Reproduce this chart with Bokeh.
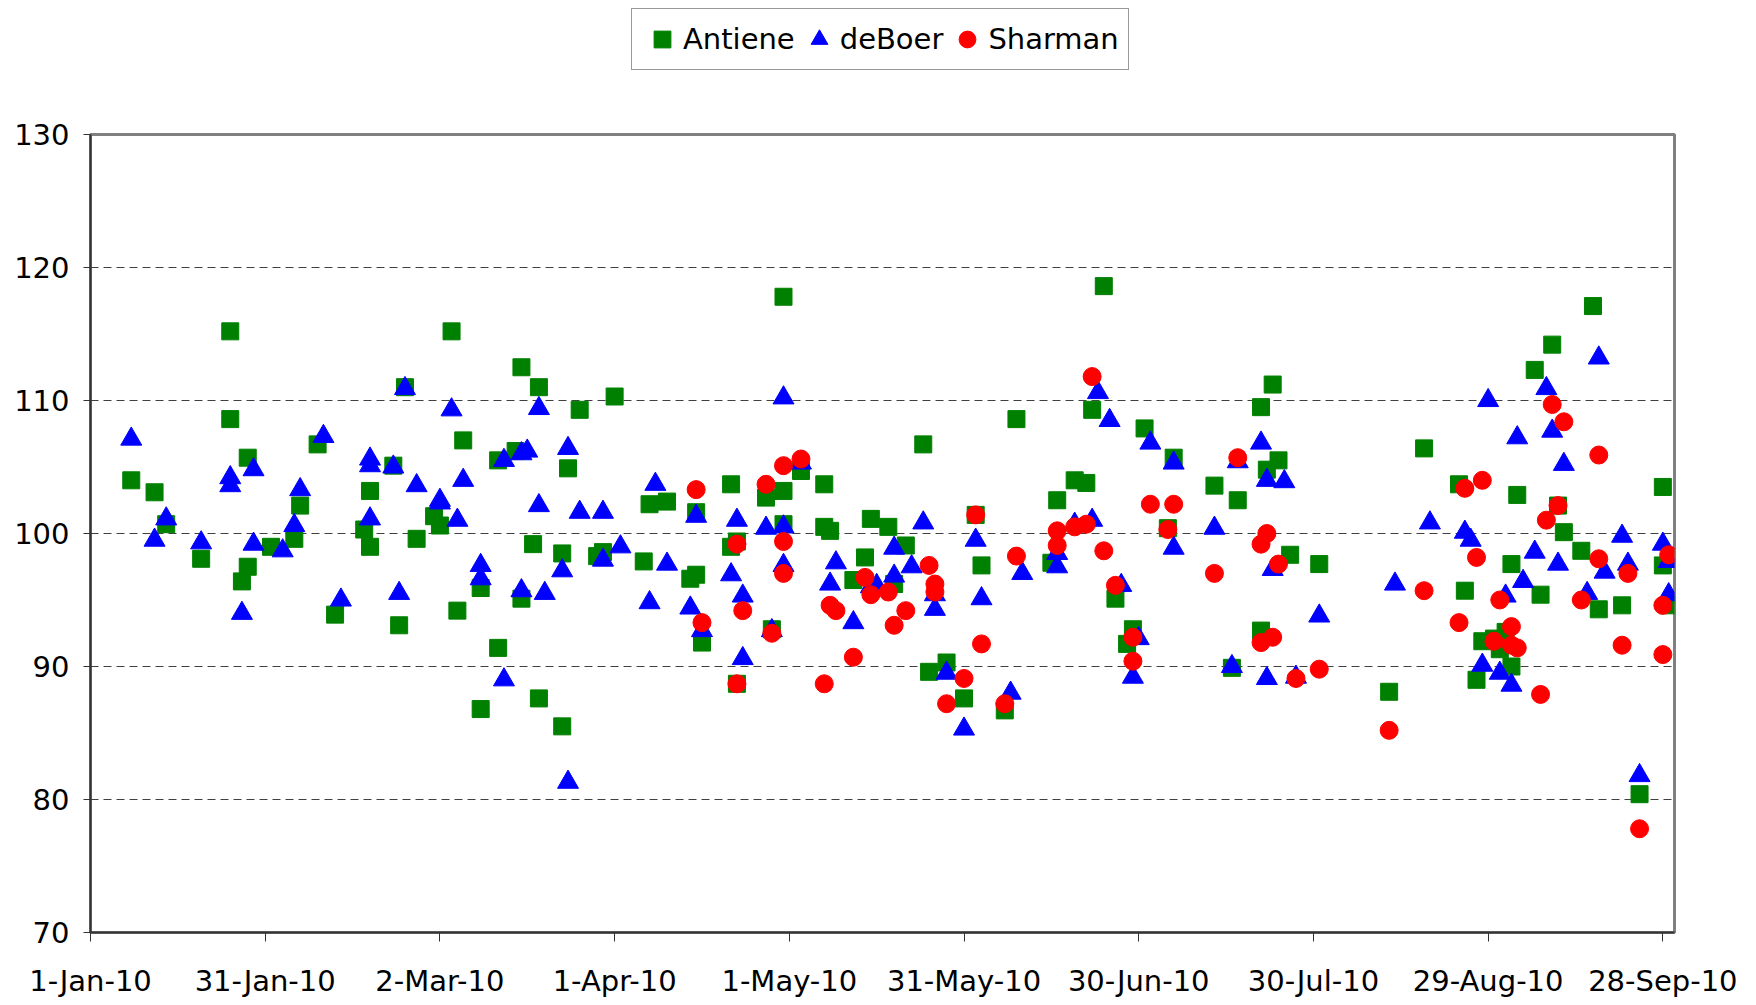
from bokeh.plotting import figure
from bokeh.layouts import column
from bokeh.models import FixedTicker, Legend, LegendItem, Range1d
from bokeh.embed import file_html
from bokeh.resources import INLINE

# ---- data (x = days since 1-Jan-10) ----
tick_days = [0, 30, 60, 90, 120, 150, 180, 210, 240, 270]
tick_labels = ["1-Jan-10", "31-Jan-10", "2-Mar-10", "1-Apr-10", "1-May-10",
               "31-May-10", "30-Jun-10", "30-Jul-10", "29-Aug-10", "28-Sep-10"]
y_ticks = [70, 80, 90, 100, 110, 120, 130]
series_names = ["Antiene", "deBoer", "Sharman"]
series_colors = ["#008000", "#0000FF", "#FF0000"]

antiene_day = [7, 11, 13, 19, 24, 24, 26, 27, 27, 31,
               35, 36, 39, 42, 47, 48, 48, 52, 53, 54,
               56, 59, 60, 62, 63, 64, 67, 67, 70, 70,
               73, 74, 74, 76, 77, 77, 81, 81, 82, 84,
               87, 88, 90, 95, 96, 99, 103, 104, 104, 105,
               110, 110, 111, 111, 116, 117, 119, 119, 119, 122,
               126, 126, 127, 131, 133, 134, 137, 138, 140, 143,
               144, 147, 150, 152, 153, 157, 159, 165, 166, 169,
               171, 172, 174, 176, 178, 179, 181, 185, 186, 193,
               196, 197, 201, 201, 202, 203, 204, 206, 211, 223,
               229, 235, 236, 238, 239, 241, 242, 243, 244, 244,
               245, 248, 249, 251, 252, 253, 256, 258, 259, 263,
               266, 270, 270, 271]
antiene_val = [104.0, 103.1, 100.7, 98.1, 115.2, 108.6, 96.4, 105.7, 97.5, 99.0,
               99.6, 102.1, 106.7, 93.9, 100.3, 103.2, 99.0, 105.1, 93.1, 111.0,
               99.6, 101.3, 100.6, 115.2, 94.2, 107.0, 95.9, 86.8, 105.5, 91.4,
               106.2, 112.5, 95.1, 99.2, 111.0, 87.6, 98.5, 85.5, 104.9, 109.3,
               98.3, 98.6, 110.3, 97.9, 102.2, 102.4, 96.6, 96.9, 101.6, 91.8,
               103.7, 99.0, 99.4, 88.7, 102.7, 92.8, 103.2, 100.7, 117.8, 104.7,
               103.7, 100.5, 100.2, 96.5, 98.2, 101.1, 100.5, 96.2, 99.1, 106.7,
               89.6, 90.3, 87.6, 101.4, 97.6, 86.7, 108.6, 97.8, 102.5, 104.0,
               103.8, 109.3, 118.6, 95.1, 91.7, 92.8, 107.9, 100.4, 105.7, 103.6,
               89.9, 102.5, 92.7, 109.5, 104.8, 111.2, 105.5, 98.4, 97.7, 88.1,
               106.4, 103.7, 95.7, 89.0, 91.9, 92.1, 91.3, 92.6, 90.0, 97.7,
               102.9, 112.3, 95.4, 114.2, 102.1, 100.1, 98.7, 117.1, 94.3, 94.6,
               80.4, 103.5, 97.6, 94.6]

deboer_day = [7, 11, 13, 19, 24, 24, 26, 28, 28, 33,
              35, 36, 40, 43, 48, 48, 48, 52, 53, 54,
              56, 60, 60, 62, 63, 64, 67, 67, 71, 71,
              74, 75, 74, 77, 77, 78, 81, 82, 82, 84,
              88, 88, 91, 96, 97, 99, 103, 104, 105, 110,
              111, 112, 112, 116, 117, 119, 119, 119, 122, 127,
              128, 131, 134, 135, 138, 138, 141, 143, 145, 145,
              147, 150, 152, 153, 158, 160, 166, 166, 169, 172,
              173, 175, 177, 179, 180, 182, 186, 186, 193, 196,
              197, 201, 202, 202, 203, 205, 207, 211, 224, 230,
              236, 237, 239, 240, 242, 243, 244, 245, 246, 248,
              250, 251, 252, 253, 257, 259, 260, 263, 264, 266,
              270, 271, 271]
deboer_val = [107.1, 99.5, 101.1, 99.3, 104.2, 103.6, 94.0, 104.8, 99.2, 98.7,
              100.6, 103.3, 107.3, 95.0, 105.6, 105.1, 101.1, 105.0, 95.5, 110.9,
              103.6, 102.5, 102.3, 109.3, 101.0, 104.0, 97.6, 96.6, 89.0, 105.5,
              106.0, 106.2, 95.7, 102.1, 109.4, 95.5, 97.2, 81.3, 106.4, 101.6,
              101.6, 98.0, 99.0, 94.8, 103.7, 97.7, 94.4, 101.3, 92.7, 96.9,
              101.0, 90.6, 95.3, 100.4, 92.7, 110.2, 97.6, 100.5, 105.3, 96.2,
              97.8, 93.3, 96.0, 96.1, 96.8, 98.9, 97.5, 100.8, 94.3, 95.4,
              89.5, 85.3, 99.5, 95.1, 88.0, 97.0, 97.5, 98.5, 100.7, 101.0,
              110.6, 108.5, 96.1, 89.2, 92.1, 106.8, 98.9, 105.3, 100.4, 90.0,
              105.4, 106.8, 89.1, 104.0, 97.3, 103.9, 89.2, 93.8, 96.2, 100.8,
              100.1, 99.5, 90.1, 110.0, 89.5, 95.3, 88.6, 107.2, 96.4, 98.6,
              110.9, 107.7, 97.7, 105.2, 95.5, 113.2, 97.1, 99.8, 97.7, 81.8,
              99.2, 95.4, 97.9]

sharman_day = [104, 105, 111, 111, 112, 116, 117, 119, 119, 119,
               122, 126, 127, 128, 131, 133, 134, 137, 138, 140,
               144, 145, 145, 147, 150, 152, 153, 157, 159, 166,
               166, 169, 171, 172, 174, 176, 179, 179, 182, 185,
               186, 193, 197, 201, 201, 202, 203, 204, 207, 211,
               223, 229, 235, 236, 238, 239, 241, 242, 244, 244,
               245, 249, 250, 251, 252, 253, 256, 259, 259, 263,
               264, 266, 270, 270, 271]
sharman_val = [103.3, 93.3, 99.2, 88.7, 94.2, 103.7, 92.5, 105.1, 99.4, 97.0,
               105.6, 88.7, 94.6, 94.2, 90.7, 96.7, 95.4, 95.6, 93.1, 94.2,
               97.6, 96.2, 95.6, 87.2, 89.1, 101.4, 91.7, 87.2, 98.3, 99.1,
               100.2, 100.5, 100.7, 111.8, 98.7, 96.1, 90.4, 92.2, 102.2, 100.3,
               102.2, 97.0, 105.7, 99.2, 91.8, 100.0, 92.2, 97.7, 89.1, 89.8,
               85.2, 95.7, 93.3, 103.4, 98.2, 104.0, 91.9, 95.0, 91.6, 93.0,
               91.4, 87.9, 101.0, 109.7, 102.1, 108.4, 95.0, 105.9, 98.1, 91.6,
               97.0, 77.8, 94.6, 90.9, 98.4]

FONT = "DejaVu Sans"
FS = "29px"
W = 1748
markers = ["square", "triangle", "circle"]
sizes = [17, 21, 18]
all_x = [antiene_day, deboer_day, sharman_day]
all_y = [antiene_val, deboer_val, sharman_val]

# ---- main chart ----
p = figure(width=W, height=900, output_backend="svg", toolbar_location=None,
           x_range=Range1d(0, 272), y_range=Range1d(70, 130),
           min_border_left=90, min_border_right=74, min_border_top=34,
           min_border_bottom=65)
p.background_fill_color = "white"
p.border_fill_color = "white"
p.outline_line_color = "#808080"
p.outline_line_width = 3

for xs, ys, m, s, c in zip(all_x, all_y, markers, sizes, series_colors):
    p.scatter(xs, ys, marker=m, size=s, fill_color=c, line_color=c)

p.xaxis.ticker = FixedTicker(ticks=tick_days)
p.xaxis.major_label_overrides = {d: l for d, l in zip(tick_days, tick_labels)}
p.yaxis.ticker = FixedTicker(ticks=y_ticks)
for ax in (p.xaxis[0], p.yaxis[0]):
    ax.axis_line_color = "#333333"
    ax.axis_line_width = 2
    ax.major_tick_line_color = "#333333"
    ax.major_tick_line_width = 1
    ax.minor_tick_line_color = None
    ax.major_tick_in = 0
    ax.major_label_text_font = FONT
    ax.major_label_text_font_size = FS
    ax.major_label_text_color = "black"
p.xaxis.major_tick_out = 9
p.xaxis.major_label_standoff = 22
p.yaxis.major_tick_out = 7
p.yaxis.major_label_standoff = 14

p.xgrid.grid_line_color = None
p.ygrid.ticker = FixedTicker(ticks=[80, 90, 100, 110, 120])
p.ygrid.grid_line_color = "#404040"
p.ygrid.grid_line_dash = "8 5"
p.ygrid.grid_line_width = 1

# ---- legend strip above the chart (frame aligned with the chart's frame) ----
lg = figure(width=W, height=100, output_backend="svg", toolbar_location=None,
            x_range=Range1d(0, 1), y_range=Range1d(0, 1),
            min_border=0, x_axis_type=None, y_axis_type=None)
lg.outline_line_color = None
lg.grid.visible = False
lg.background_fill_color = "white"
items = []
for name, xs, ys, m, s, c in zip(series_names, all_x, all_y, markers, sizes, series_colors):
    # same series drawn here only to feed the legend; all fall outside this strip's ranges
    r = lg.scatter(xs, ys, marker=m, size=s, fill_color=c, line_color=c)
    items.append(LegendItem(label=name, renderers=[r]))
legend = Legend(items=items, orientation="horizontal", location=(541, 30),
                margin=0, label_text_font=FONT, label_text_font_size=FS,
                label_text_color="black",
                border_line_color="#333333", border_line_width=1.5,
                padding=9, spacing=3, glyph_width=42, glyph_height=42,
                label_standoff=-4, background_fill_color="white")
lg.add_layout(legend, "center")

layout = column(lg, p, spacing=0)
open("out.html", "w").write(file_html(layout, INLINE))
